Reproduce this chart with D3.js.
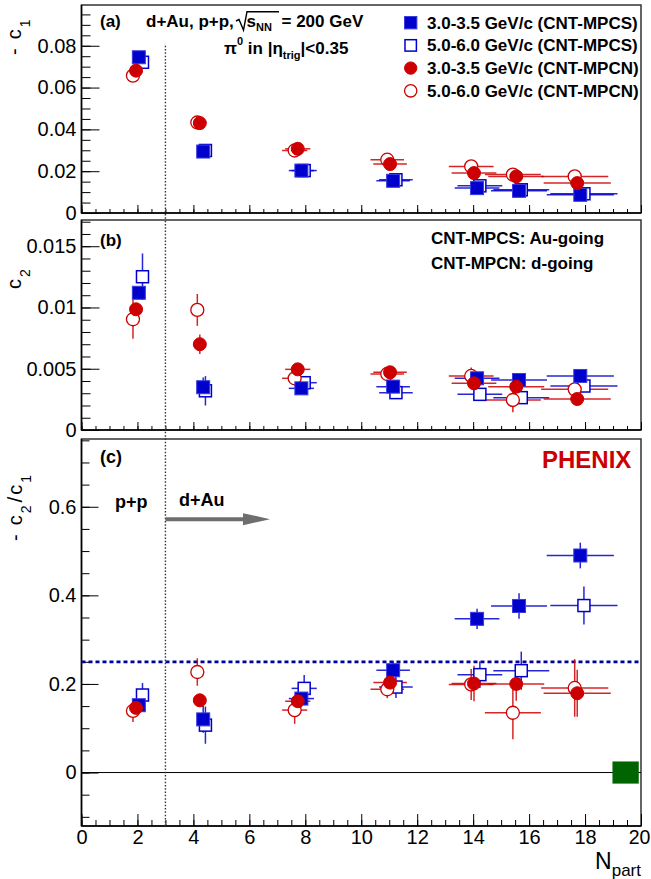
<!DOCTYPE html>
<html>
<head>
<meta charset="utf-8">
<script src="https://cdn.jsdelivr.net/npm/d3@7"></script>
<style>
  body { margin: 0; background: #fff; }
  svg { display: block; font-family: "Liberation Sans", Arial, Helvetica, sans-serif; }
</style>
</head>
<body>
<svg id="chart" width="651" height="879"></svg>
<script>
// N_part of each point (shifted a little per series, as in the figure)
const npartFS = [2.05, 4.35, 7.86, 11.14, 14.14, 15.64, 17.83];
const npartOS = [2.18, 4.43, 7.96, 11.24, 14.24, 15.72, 17.96];
const npartFN = [1.95, 4.23, 7.73, 11.03, 14.03, 15.54, 17.72];
const npartON = [1.84, 4.14, 7.62, 10.93, 13.93, 15.42, 17.63];
// horizontal (N_part) errors, same for all series
const npartErr = [0, 0.15, 0.45, 0.6, 0.8, 1.0, 1.2];

// panel (a): -c1
const c1FS = [0.0745, 0.0294, 0.0203, 0.0154, 0.0119, 0.0106, 0.0087];
const c1OS = [0.0721, 0.0299, 0.0203, 0.0159, 0.0130, 0.0111, 0.0092];
const c1FN = [0.0681, 0.0430, 0.0307, 0.0234, 0.0191, 0.0175, 0.0143];
const c1ON = [0.0657, 0.0433, 0.0299, 0.0255, 0.0223, 0.0184, 0.0175];
const c1Err = [0.0005, 0.0005, 0.0005, 0.0005, 0.0005, 0.0005, 0.0005];

// panel (b): c2
const c2FS = [0.0112, 0.00349, 0.0034, 0.00354, 0.00422, 0.00408, 0.00441];
const c2OS = [0.01251, 0.0032, 0.00386, 0.00305, 0.00291, 0.00264, 0.00359];
const c2FN = [0.00985, 0.0070, 0.00495, 0.00471, 0.00381, 0.00354, 0.00253];
const c2ON = [0.00904, 0.0098, 0.00422, 0.00457, 0.00441, 0.00245, 0.00332];
const c2ErrFS = [0.0005, 0.0008, 0.0003, 0.0003, 0.0003, 0.0003, 0.0003];
const c2ErrOS = [0.0019, 0.0012, 0.0005, 0.0004, 0.0004, 0.0004, 0.0004];
const c2ErrFN = [0.0004, 0.0008, 0.0003, 0.0003, 0.0003, 0.0004, 0.0003];
const c2ErrON = [0.0016, 0.0013, 0.0006, 0.0004, 0.0007, 0.0010, 0.0006];

// panel (c): -c2/c1
const ratioFS = [0.152, 0.120, 0.167, 0.231, 0.347, 0.376, 0.490];
const ratioOS = [0.175, 0.107, 0.190, 0.193, 0.221, 0.230, 0.377];
const ratioFN = [0.146, 0.163, 0.161, 0.203, 0.201, 0.200, 0.179];
const ratioON = [0.139, 0.227, 0.141, 0.188, 0.199, 0.135, 0.191];
const ratioErrFS = [0.012, 0.030, 0.020, 0.020, 0.023, 0.029, 0.029];
const ratioErrOS = [0.027, 0.042, 0.030, 0.025, 0.030, 0.043, 0.043];
const ratioErrFN = [0.015, 0.015, 0.015, 0.020, 0.040, 0.038, 0.053];
const ratioErrON = [0.025, 0.031, 0.031, 0.020, 0.035, 0.060, 0.065];

const legendLabels = ["3.0-3.5 GeV/c (CNT-MPCS)", "5.0-6.0 GeV/c (CNT-MPCS)",
                      "3.0-3.5 GeV/c (CNT-MPCN)", "5.0-6.0 GeV/c (CNT-MPCN)"];

const xTicks = [0, 2, 4, 6, 8, 10, 12, 14, 16, 18, 20];
const yTicksA = [0, 0.02, 0.04, 0.06, 0.08];
const yTicksB = [0, 0.005, 0.01, 0.015];
const yTicksC = [0, 0.2, 0.4, 0.6];

const blue = "#0000cc", red = "#cc0000";

const series = [
  {label: legendLabels[0], color: blue, shape: "square", filled: true,
   x: npartFS, a: c1FS, aErr: c1Err, b: c2FS, bErr: c2ErrFS, c: ratioFS, cErr: ratioErrFS},
  {label: legendLabels[1], color: blue, shape: "square", filled: false,
   x: npartOS, a: c1OS, aErr: c1Err, b: c2OS, bErr: c2ErrOS, c: ratioOS, cErr: ratioErrOS},
  {label: legendLabels[2], color: red, shape: "circle", filled: true,
   x: npartFN, a: c1FN, aErr: c1Err, b: c2FN, bErr: c2ErrFN, c: ratioFN, cErr: ratioErrFN},
  {label: legendLabels[3], color: red, shape: "circle", filled: false,
   x: npartON, a: c1ON, aErr: c1Err, b: c2ON, bErr: c2ErrON, c: ratioON, cErr: ratioErrON}
];
// open markers go below the filled ones
const drawOrder = [1, 3, 0, 2];

const svg = d3.select("#chart");
const x = d3.scaleLinear().domain([0, 20]).range([81.5, 641]);

const panels = [
  {key: "a", top: 5, bottom: 213, domain: [0, 0.0995], ticks: yTicksA, minor: 0.005,
   yMaj: 18, yMin: 9, xMaj: 8, xMin: 4},
  {key: "b", top: 220, bottom: 430, domain: [0, 0.01714], ticks: yTicksB, minor: 0.001,
   yMaj: 18, yMin: 9, xMaj: 8, xMin: 4},
  {key: "c", top: 439, bottom: 826, domain: [-0.1207, 0.753], ticks: yTicksC, minor: 0.05,
   yMaj: 17, yMin: 8, xMaj: 12, xMin: 6, xLabels: true}
];

function minorValues(domain, step) {
  let k0 = Math.ceil(domain[0] / step - 1e-6), k1 = Math.floor(domain[1] / step + 1e-6);
  return d3.range(k0, k1 + 1).map(k => +(k * step).toFixed(6));
}

function styleAxis(g) {
  g.attr("font-family", null).attr("font-size", null);
  g.select(".domain").remove();
  g.selectAll("line").attr("stroke", "#000").attr("stroke-width", 1);
  g.selectAll("text").attr("fill", "#000").style("font-size", "20px");
}

function drawMarker(g, s, cx, cy, sc) {
  sc = sc || 1;
  if (s.shape === "square") {
    let h = (s.filled ? 6.5 : 6) * sc;
    g.append("rect")
      .attr("x", cx - h).attr("y", cy - h)
      .attr("width", 2 * h).attr("height", 2 * h)
      .attr("fill", s.filled ? s.color : "#fff")
      .attr("stroke", s.filled ? "#3a3ae0" : s.color)
      .attr("stroke-width", s.filled ? 1 : 1.5);
  } else {
    g.append("circle")
      .attr("cx", cx).attr("cy", cy).attr("r", 6.5 * sc)
      .attr("fill", s.filled ? s.color : "#fff")
      .attr("stroke", s.color)
      .attr("stroke-width", s.filled ? 1 : 1.3);
  }
}

let yScales = {};

panels.forEach(p => {
  let y = d3.scaleLinear().domain(p.domain).range([p.bottom, p.top]);
  yScales[p.key] = y;
  let g = svg.append("g").attr("class", "panel-" + p.key);

  // frame
  g.append("rect")
    .attr("x", x(0)).attr("y", p.top)
    .attr("width", x(20) - x(0)).attr("height", p.bottom - p.top)
    .attr("fill", "none").attr("stroke", "#333").attr("stroke-width", 1.5);

  // y axis: minor then major ticks, pointing inside
  g.append("g").attr("transform", `translate(${x(0)},0)`)
    .call(d3.axisLeft(y).tickValues(minorValues(p.domain, p.minor)).tickSize(-p.yMin).tickFormat(""))
    .call(styleAxis);
  g.append("g").attr("transform", `translate(${x(0)},0)`)
    .call(d3.axisLeft(y).tickValues(p.ticks).tickSize(-p.yMaj).tickPadding(5)
      .tickFormat(d => d === 0 ? "0" : String(d)))
    .call(styleAxis);

  // x axis
  g.append("g").attr("transform", `translate(0,${p.bottom})`)
    .call(d3.axisBottom(x).tickValues(minorValues([0, 20], 0.5)).tickSize(-p.xMin).tickFormat(""))
    .call(styleAxis);
  let xa = g.append("g").attr("transform", `translate(0,${p.bottom})`)
    .call(d3.axisBottom(x).tickValues(xTicks).tickSize(-p.xMaj).tickPadding(4)
      .tickFormat(p.xLabels ? d3.format("d") : ""))
    .call(styleAxis);
  // keep the last label inside the picture
  xa.selectAll("text").filter(d => d === 20).attr("dx", -2).style("font-size", "19.5px");

  g.append("line")
    .attr("x1", x(0)).attr("x2", x(0)).attr("y1", p.top).attr("y2", p.bottom)
    .attr("stroke", "#000").attr("stroke-width", 1.5);
  g.append("line")
    .attr("x1", x(0)).attr("x2", x(20)).attr("y1", p.bottom).attr("y2", p.bottom)
    .attr("stroke", "#000").attr("stroke-width", 1.5);
});

const yC = yScales.c;

// reference lines in panel (c)
svg.append("line")
  .attr("x1", x(0)).attr("x2", x(20)).attr("y1", yC(0)).attr("y2", yC(0))
  .attr("stroke", "#000").attr("stroke-width", 1);
svg.append("line")
  .attr("x1", x(0)).attr("x2", x(20)).attr("y1", yC(0.25)).attr("y2", yC(0.25))
  .attr("stroke", "#00009a").attr("stroke-width", 2.8).attr("stroke-dasharray", "4,3");

// global systematic box at zero
const sysBox = [{x: 19.45, dx: 0.47, y: 0, dy: 0.025}];
svg.selectAll("rect.sys").data(sysBox).enter().append("rect")
  .attr("class", "sys")
  .attr("x", d => x(d.x - d.dx)).attr("width", d => x(d.x + d.dx) - x(d.x - d.dx))
  .attr("y", d => yC(d.y + d.dy)).attr("height", d => yC(d.y - d.dy) - yC(d.y + d.dy))
  .attr("fill", "#006400");

// p+p / d+Au separator
svg.append("line")
  .attr("x1", x(3)).attr("x2", x(3))
  .attr("y1", yScales.a(0.08)).attr("y2", yC(-0.1207))
  .attr("stroke", "#333").attr("stroke-width", 1.4).attr("stroke-dasharray", "1.5,1.8");

// data: error bars first, then markers
panels.forEach(p => {
  let y = yScales[p.key];
  let g = svg.append("g");
  drawOrder.forEach(i => {
    let s = series[i];
    let vals = s[p.key], errs = s[p.key + "Err"];
    vals.forEach((v, j) => {
      let cx = x(s.x[j]), cy = y(v);
      if (npartErr[j] > 0) {
        g.append("line")
          .attr("x1", x(s.x[j] - npartErr[j])).attr("x2", x(s.x[j] + npartErr[j]))
          .attr("y1", cy).attr("y2", cy)
          .attr("stroke", s.color).attr("stroke-width", 1.5).attr("stroke-opacity", 0.85);
      }
      g.append("line")
        .attr("x1", cx).attr("x2", cx)
        .attr("y1", y(v - errs[j])).attr("y2", y(v + errs[j]))
        .attr("stroke", s.color).attr("stroke-width", 1.5).attr("stroke-opacity", 0.85);
    });
  });
  drawOrder.forEach(i => {
    let s = series[i];
    s[p.key].forEach((v, j) => drawMarker(g, s, x(s.x[j]), y(v)));
  });
});

// legend (panel a)
let legend = svg.append("g");
series.forEach((s, i) => {
  let ly = 22.7 + i * 22.7;
  drawMarker(legend, s, 410.7, ly, 0.95);
  legend.append("text")
    .attr("x", 427).attr("y", ly + 6)
    .attr("font-size", 17).attr("font-weight", "bold")
    .text(s.label);
});

// annotations
function bold(xp, yp, txt, size, color) {
  return svg.append("text").attr("x", xp).attr("y", yp)
    .attr("font-size", size || 17).attr("font-weight", "bold")
    .attr("fill", color || "#000").text(txt);
}
bold(100, 27, "(a)");
bold(146, 27, "d+Au, p+p,");
svg.append("path")
  .attr("d", "M236,21 L239,19.5 L243.5,30 L247,11.7 L279,11.7")
  .attr("fill", "none").attr("stroke", "#000").attr("stroke-width", 1.4);
let sNN = bold(246.5, 27, "s");
sNN.append("tspan").attr("font-size", 11).attr("dy", 4).text("NN");
bold(281.5, 27, "= 200 GeV");

let piText = bold(224, 54, "\u03c0");
piText.append("tspan").attr("font-size", 11).attr("dy", -9).text("0");
piText.append("tspan").attr("dy", 9).text(" in |\u03b7");
piText.append("tspan").attr("font-size", 11).attr("dy", 5).text("trig");
piText.append("tspan").attr("dy", -5).text("|<0.35");

bold(100, 246, "(b)");
bold(431, 244, "CNT-MPCS: Au-going");
bold(431, 269, "CNT-MPCN: d-going");

bold(100, 463, "(c)", 18);
bold(542, 468, "PHENIX", 24, "#cc0000");
bold(115, 508, "p+p", 18);
bold(179, 506, "d+Au", 18);

// d+Au arrow
svg.append("line")
  .attr("x1", x(3)).attr("x2", 244).attr("y1", yC(0.572)).attr("y2", yC(0.572))
  .attr("stroke", "#6e6e6e").attr("stroke-width", 4);
svg.append("path")
  .attr("d", `M243,${yC(0.572) - 6} L270,${yC(0.572)} L243,${yC(0.572) + 6} Z`)
  .attr("fill", "#6e6e6e");

// axis titles
function yTitle(xp, yp, parts) {
  let t = svg.append("text")
    .attr("transform", `translate(${xp},${yp}) rotate(-90)`)
    .attr("font-size", 20).attr("text-anchor", "start");
  parts.forEach(pt => {
    let ts = t.append("tspan").text(pt.t);
    if (pt.size) ts.attr("font-size", pt.size);
    if (pt.dy) ts.attr("dy", pt.dy);
    if (pt.dx) ts.attr("dx", pt.dx);
  });
}
yTitle(21, 55, [{t: "-"}, {t: "c", dx: 9}, {t: "1", size: 14, dy: 9, dx: 2}]);
yTitle(21, 289, [{t: "c"}, {t: "2", size: 14, dy: 9, dx: 2}]);
yTitle(22, 541, [{t: "-"}, {t: "c", dx: 9}, {t: "2", size: 14, dy: 9, dx: 2},
                 {t: "/", dy: -9, dx: 3, size: 21}, {t: "c", dx: 2}, {t: "1", size: 14, dy: 9, dx: 2}]);

let nt = svg.append("text")
  .attr("x", 641).attr("y", 869).attr("text-anchor", "end")
  .attr("font-size", 23).text("N");
nt.append("tspan").attr("font-size", 17).attr("dy", 7).text("part");
</script>
</body>
</html>
